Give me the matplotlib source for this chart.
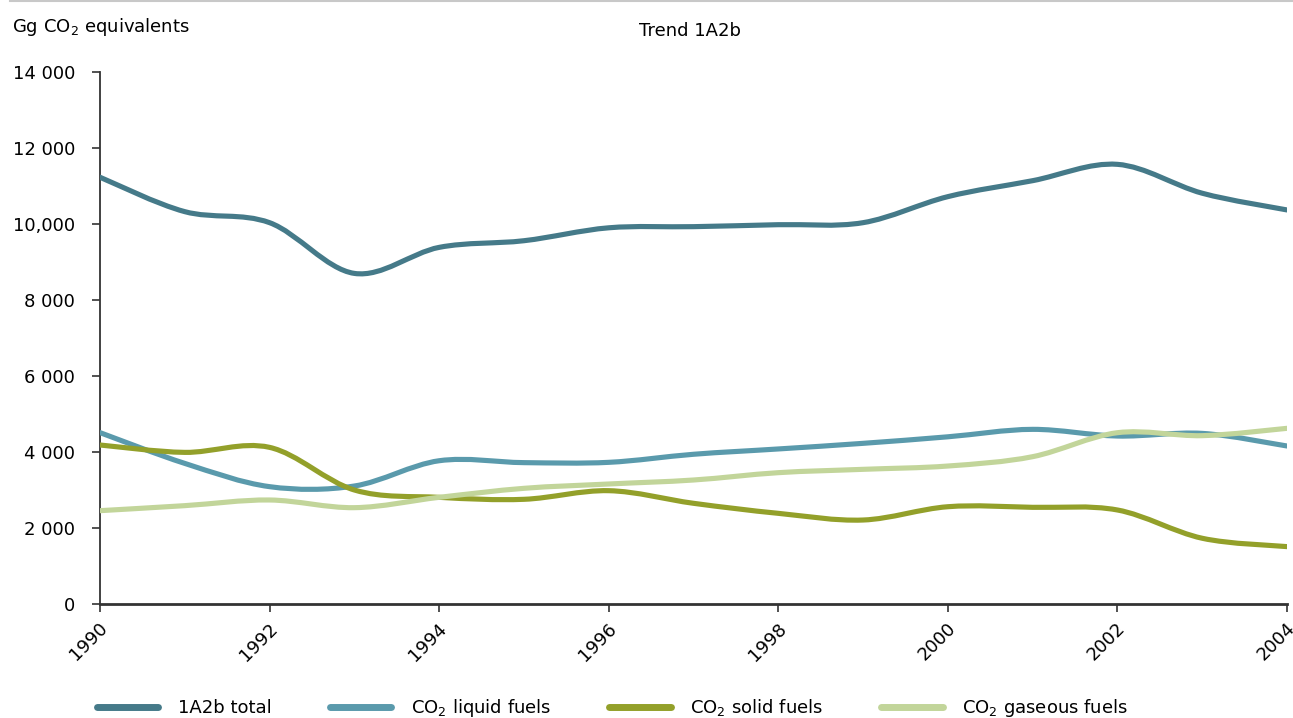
import matplotlib
matplotlib.use("Agg")
import matplotlib.pyplot as plt
import matplotlib.transforms as mtransforms
from matplotlib.path import Path
from matplotlib.patches import PathPatch
from matplotlib.lines import Line2D
from matplotlib.ticker import FixedLocator, FixedFormatter

years = [1990, 1991, 1992, 1993, 1994, 1995, 1996, 1997, 1998, 1999,
         2000, 2001, 2002, 2003, 2004]
total = [11230, 10325, 10035, 8700, 9385, 9560, 9900, 9930, 9982, 10035,
         10720, 11140, 11570, 10810, 10370]
liquid = [4510, 3700, 3088, 3105, 3770, 3720, 3728, 3940, 4080, 4228,
          4400, 4596, 4420, 4490, 4158]
solid = [4184, 3990, 4122, 3000, 2807, 2755, 2982, 2650, 2386, 2210,
         2560, 2544, 2474, 1730, 1510]
gaseous = [2456, 2588, 2737, 2535, 2807, 3044, 3158, 3263, 3456, 3544,
           3631, 3877, 4508, 4430, 4623]

series_names = ["1A2b total", "CO$_2$ liquid fuels", "CO$_2$ solid fuels",
                "CO$_2$ gaseous fuels"]
series_colors = ["#457a89", "#5a9aac", "#93a02a", "#c2d59a"]

ytick_vals = [0, 2000, 4000, 6000, 8000, 10000, 12000, 14000]
ytick_labels = ["0", "2 000", "4 000", "6 000", "8 000", "10,000", "12 000", "14 000"]
xtick_vals = [1990, 1992, 1994, 1996, 1998, 2000, 2002, 2004]

FS = 13

fig = plt.figure(figsize=(12.93, 7.18), dpi=100)
ax = fig.add_axes([100/1293, 1-604/718, (1287-100)/1293, (604-72)/718])


def smooth_path(xs, ys):
    """Excel-style smoothed line as cubic Bezier segments through the data points."""
    pts = list(zip(xs, ys))
    n = len(pts)
    verts = [pts[0]]
    codes = [Path.MOVETO]
    for i in range(n - 1):
        p0 = pts[i - 1] if i > 0 else pts[i]
        p1 = pts[i]
        p2 = pts[i + 1]
        p3 = pts[i + 2] if i + 2 < n else pts[i + 1]
        c1 = (p1[0] + (p2[0] - p0[0]) / 6.0, p1[1] + (p2[1] - p0[1]) / 6.0)
        c2 = (p2[0] - (p3[0] - p1[0]) / 6.0, p2[1] - (p3[1] - p1[1]) / 6.0)
        verts += [c1, c2, p2]
        codes += [Path.CURVE4, Path.CURVE4, Path.CURVE4]
    return Path(verts, codes)


handles = []
for vals, name, col in zip([total, liquid, solid, gaseous], series_names, series_colors):
    patch = PathPatch(smooth_path(years, vals), facecolor="none", edgecolor=col,
                      lw=3.7, capstyle="round", joinstyle="round", zorder=3)
    ax.add_patch(patch)
    handles.append(Line2D([], [], color=col, lw=5, solid_capstyle="round", label=name))

ax.set_xlim(1990, 2004)
ax.set_ylim(0, 14000)
ax.yaxis.set_major_locator(FixedLocator(ytick_vals))
ax.yaxis.set_major_formatter(FixedFormatter(ytick_labels))
ax.set_xticks(xtick_vals)
ax.set_xticklabels([str(v) for v in xtick_vals], rotation=45, ha="center")

for s in ["top", "right"]:
    ax.spines[s].set_visible(False)
for s in ["left", "bottom"]:
    ax.spines[s].set_color("#333333")
    ax.spines[s].set_linewidth(1.3)
ax.spines["bottom"].set_linewidth(2)
ax.tick_params(axis="both", direction="out", length=6, width=1.2, color="#333333",
               labelsize=FS, labelcolor="#000000")
ax.tick_params(axis="y", pad=12)
ax.tick_params(axis="x", pad=5)

shift = mtransforms.ScaledTranslation(-11/100, 0, fig.dpi_scale_trans)
for tick in ax.xaxis.get_major_ticks():
    tick.label1.set_transform(tick.label1.get_transform() + shift)

fig.text(12/1293, 1-27/718, "Gg CO$_2$ equivalents", fontsize=FS, ha="left", va="center")
fig.text(690/1293, 1-31/718, "Trend 1A2b", fontsize=FS, ha="center", va="center")
fig.add_artist(Line2D([10/1293, 1], [0.999, 0.999], color="#c8c8c8", lw=1.5,
                      transform=fig.transFigure))

fig.legend(handles=handles, loc="center left", bbox_to_anchor=(97/1293, 1-708/718),
           ncol=4, frameon=False, fontsize=FS, handlelength=3.4, handletextpad=1.1,
           columnspacing=3.2, borderaxespad=0, borderpad=0)

fig.savefig("out.png", dpi=100)
